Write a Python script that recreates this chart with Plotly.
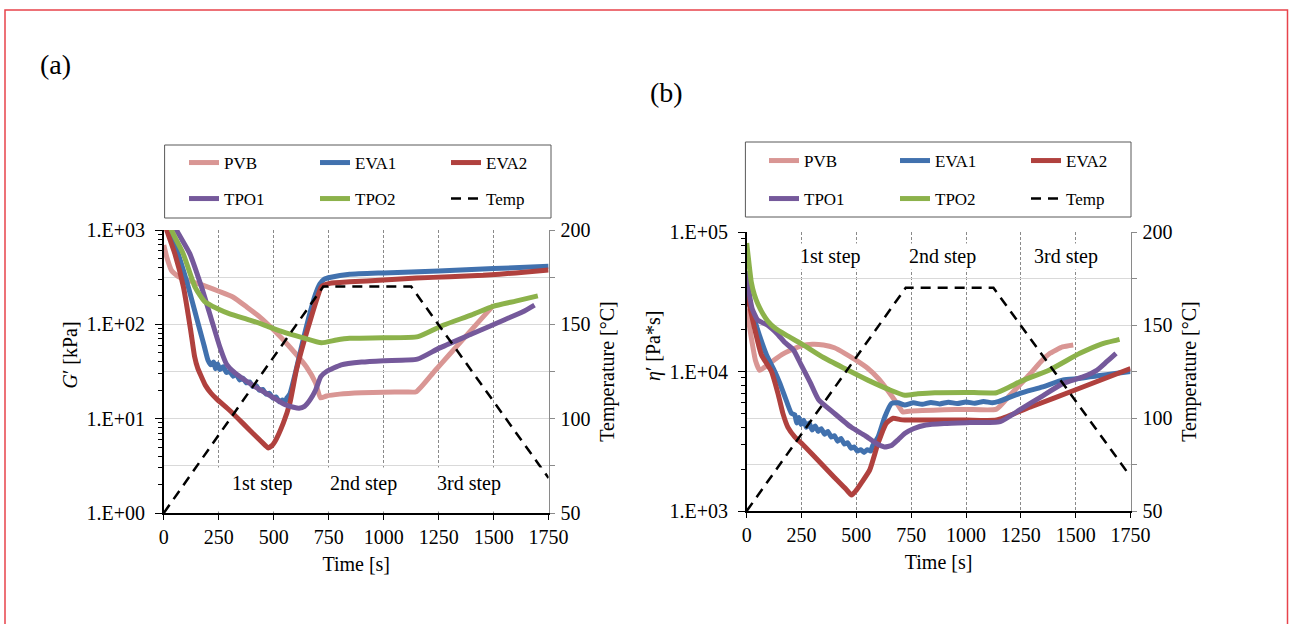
import plotly.graph_objects as go

# ---------------- data ----------------
series_names = ["PVB", "EVA1", "EVA2", "TPO1", "TPO2"]
series_colors = ["#D99694", "#4171AE", "#B0413E", "#75599B", "#8CB24B"]

x_ticks = [0, 250, 500, 750, 1000, 1250, 1500, 1750]
temp_ticks = [50, 75, 100, 125, 150, 175, 200]
temp_ticktext = ["50", "", "100", "", "150", "", "200"]
a_ticks = [1, 10, 100, 1000]
a_ticktext = ["1.E+00", "1.E+01", "1.E+02", "1.E+03"]
b_ticks = [1000, 10000, 100000]
b_ticktext = ["1.E+03", "1.E+04", "1.E+05"]
step_labels = ["1st step", "2nd step", "3rd step"]
a_step_t = [451, 906, 1388]
b_step_t = [380, 893, 1455]

# temperature program (both panels)
temp_t = [0, 725, 1125, 1750]
temp_T = [50, 170, 170, 68.5]

# ---- panel (a): G' [kPa] ----
a_pvb_t = [0, 15, 35, 70, 120, 171, 250, 314, 380, 436, 500, 573, 648, 690, 713, 740, 800, 900, 1000, 1100, 1148, 1232, 1300, 1400, 1500]
a_pvb_g = [692, 501, 372, 316, 288, 263, 224, 195, 151, 120, 87, 57.5, 35.5, 24.0, 16.6, 17.4, 18.2, 18.8, 19.1, 19.2, 19.3, 32.0, 48.2, 87.9, 160]

a_eva1_t = [0, 27, 65, 111, 140, 164, 185, 201, 215, 227, 235, 245, 255, 270, 285, 300, 315, 330, 345, 360, 375, 390, 405, 420, 435, 450, 465, 480, 495, 510, 525, 540, 550, 560, 573, 600, 630, 660, 690, 710, 730, 760, 845, 1000, 1250, 1500, 1750]
a_eva1_g = [1585, 1000, 562, 251, 141, 87.1, 57.5, 41.7, 37.2, 39.8, 33.9, 38.0, 33.1, 35.5, 30.9, 31.6, 28.2, 29.5, 25.7, 26.9, 24.0, 24.5, 21.9, 22.4, 20.0, 20.4, 18.2, 18.6, 16.6, 17.0, 15.1, 15.8, 14.8, 16.6, 18.2, 31.6, 63.1, 120, 209, 269, 302, 316, 339, 351, 367, 390, 412]

a_eva2_t = [0, 13, 50, 89, 122, 140, 155, 170, 190, 215, 240, 300, 360, 420, 460, 475, 490, 505, 543, 573, 603, 639, 667, 695, 717, 755, 845, 1000, 1149, 1300, 1452, 1600, 1750]
a_eva2_g = [1259, 1000, 562, 251, 87.1, 45.7, 33.9, 28.2, 22.4, 18.6, 16.2, 12.2, 8.91, 6.46, 5.25, 4.90, 5.13, 5.70, 8.91, 14.5, 32.8, 67.6, 112, 182, 251, 272, 282, 295, 309, 320, 331, 351, 377]

a_tpo1_t = [0, 58, 118, 171, 217, 255, 285, 321, 350, 400, 450, 500, 550, 590, 615, 640, 665, 690, 714, 740, 807, 900, 1000, 1153, 1250, 1400, 1550, 1633, 1686]
a_tpo1_g = [2239, 1000, 562, 251, 112, 57.5, 38.0, 30.9, 27.5, 22.9, 19.5, 16.6, 14.1, 13.2, 12.9, 13.5, 15.8, 20.0, 27.9, 31.6, 37.2, 39.8, 41.2, 42.7, 55.6, 78.9, 112, 136, 160]

a_tpo2_t = [0, 35, 88, 141, 164, 186, 240, 300, 391, 460, 542, 630, 717, 785, 845, 997, 1156, 1270, 1400, 1497, 1600, 1701]
a_tpo2_g = [1995, 1000, 562, 251, 204, 174, 148, 129, 111, 97.7, 83.2, 72.4, 63.8, 68.2, 71.1, 72.1, 74.1, 97.7, 126, 155, 176, 200]

# ---- panel (b): eta' [Pa*s] ----
b_pvb_t = [0, 20, 40, 59, 80, 113, 160, 204, 250, 300, 350, 400, 447, 500, 553, 600, 650, 690, 712, 740, 800, 900, 1000, 1139, 1200, 1246, 1291, 1340, 1383, 1440, 1489]
b_pvb_e = [28200, 17800, 12000, 10200, 10700, 11700, 13200, 14300, 15300, 15700, 15500, 14800, 13500, 12000, 10500, 8910, 7080, 5750, 5130, 5190, 5250, 5310, 5350, 5370, 6760, 8040, 9550, 11700, 13500, 15000, 15500]

b_eva1_t = [0, 30, 60, 90, 128, 150, 174, 204, 219, 228, 238, 248, 260, 272, 285, 298, 312, 326, 340, 355, 370, 385, 400, 415, 430, 445, 460, 475, 490, 505, 520, 535, 550, 565, 575, 599, 630, 660, 690, 721, 760, 800, 840, 880, 920, 960, 1000, 1040, 1080, 1120, 1150, 1246, 1350, 1443, 1515, 1600, 1680, 1750]
b_eva1_e = [35500, 25100, 17800, 13200, 10000, 8320, 6610, 5010, 4900, 4270, 4680, 4170, 4470, 3980, 4270, 3800, 4070, 3720, 3890, 3550, 3720, 3390, 3470, 3160, 3310, 3020, 3090, 2820, 2880, 2690, 2750, 2630, 2750, 2690, 2950, 3390, 4740, 5890, 5960, 5750, 5960, 5820, 6000, 5860, 6030, 5890, 6050, 5920, 6100, 5960, 6100, 6980, 7760, 8710, 8910, 9330, 9660, 10000]

b_eva2_t = [0, 30, 67, 113, 143, 165, 188, 220, 250, 300, 350, 400, 450, 478, 500, 523, 561, 599, 637, 668, 700, 721, 835, 1000, 1139, 1300, 1500, 1750]
b_eva2_e = [37200, 22400, 13200, 10000, 6920, 5010, 3980, 3390, 3060, 2540, 2100, 1740, 1450, 1300, 1410, 1590, 1970, 3060, 4270, 4620, 4520, 4490, 4490, 4490, 4490, 5610, 7400, 10500]

b_tpo1_t = [0, 10, 25, 50, 97, 140, 173, 213, 250, 290, 327, 400, 477, 540, 590, 628, 660, 690, 722, 760, 817, 900, 1000, 1156, 1250, 1350, 1443, 1530, 1596, 1640, 1684]
b_tpo1_e = [52500, 38000, 28200, 23400, 21400, 18600, 16200, 14300, 11000, 8320, 6310, 5010, 3980, 3470, 3060, 2880, 2950, 3240, 3610, 3890, 4140, 4240, 4300, 4370, 5370, 6700, 8220, 9120, 10200, 11700, 13500]

b_tpo2_t = [0, 10, 21, 35, 52, 75, 97, 130, 180, 250, 350, 447, 550, 650, 721, 780, 858, 1000, 1139, 1200, 1246, 1383, 1519, 1620, 1687, 1700]
b_tpo2_e = [83200, 60300, 43700, 35500, 30200, 25700, 22900, 20400, 18200, 15800, 12600, 10500, 8710, 7410, 6760, 6920, 7050, 7080, 7050, 7760, 8450, 10300, 13500, 15800, 16800, 17000]

# ---------------- layout helpers (pixel positions) ----------------
W, H = 1290, 624
FONT = "Liberation Serif"


def px(x):
    return x / W


def py(y):
    return 1 - y / H


A_X = [px(163.8), px(548.6)]
A_Y = [py(513), py(230)]
B_X = [px(746.7), px(1130.5)]
B_Y = [py(511), py(232)]

fig = go.Figure()

a_sets = [(a_pvb_t, a_pvb_g), (a_eva1_t, a_eva1_g), (a_eva2_t, a_eva2_g), (a_tpo1_t, a_tpo1_g), (a_tpo2_t, a_tpo2_g)]
b_sets = [(b_pvb_t, b_pvb_e), (b_eva1_t, b_eva1_e), (b_eva2_t, b_eva2_e), (b_tpo1_t, b_tpo1_e), (b_tpo2_t, b_tpo2_e)]

for i, (name, col, (tx, ty)) in enumerate(zip(series_names, series_colors, a_sets)):
    fig.add_trace(go.Scatter(x=tx, y=ty, name=name, mode="lines",
                             line=dict(color=col, width=5, shape="spline", smoothing=0.5),
                             xaxis="x", yaxis="y",
                             legend="legend" if i < 3 else "legend2"))
fig.add_trace(go.Scatter(x=temp_t, y=temp_T, name="Temp", mode="lines",
                         line=dict(color="black", width=2.5, dash="10px,7px"),
                         xaxis="x", yaxis="y2", legend="legend2"))

for i, (name, col, (tx, ty)) in enumerate(zip(series_names, series_colors, b_sets)):
    fig.add_trace(go.Scatter(x=tx, y=ty, name=name, mode="lines",
                             line=dict(color=col, width=5, shape="spline", smoothing=0.5),
                             xaxis="x2", yaxis="y3",
                             legend="legend3" if i < 3 else "legend4"))
fig.add_trace(go.Scatter(x=temp_t, y=temp_T, name="Temp", mode="lines",
                         line=dict(color="black", width=2.5, dash="10px,7px"),
                         xaxis="x2", yaxis="y4", legend="legend4"))

tickfont = dict(family=FONT, size=20, color="black")
titlefont = dict(family=FONT, size=20, color="black")

xcommon = dict(range=[0, 1750], tickmode="array", tickvals=x_ticks,
               showgrid=True, gridcolor="#8a8a8a", griddash="3px,2px", gridwidth=1,
               showline=True, linecolor="black", linewidth=1.5,
               ticks="outside", ticklen=5, tickcolor="black", tickwidth=1,
               tickfont=tickfont, zeroline=False, fixedrange=True,
               title=dict(text="Time [s]", font=titlefont, standoff=10))

tempcommon = dict(range=[50, 200], tickmode="array", tickvals=temp_ticks, ticktext=temp_ticktext,
                  side="right", showgrid=True, gridcolor="#d9d9d9", gridwidth=1,
                  showline=True, linecolor="#8a8a8a", linewidth=1,
                  ticks="outside", ticklen=5, tickcolor="#8a8a8a", ticklabelstandoff=2,
                  tickfont=tickfont, zeroline=False,
                  title=dict(text="Temperature [°C]", font=titlefont, standoff=10))

logcommon = dict(type="log", tickmode="array",
                 showgrid=True, gridcolor="#8a8a8a", griddash="3px,2px", gridwidth=1,
                 showline=True, linecolor="black", linewidth=1.5,
                 ticks="outside", ticklen=7, tickcolor="black", ticklabelstandoff=6,
                 tickfont=tickfont, zeroline=False)

a_minor = [v * m for v in [1, 10, 100] for m in range(2, 10)]
b_minor = [v * m for v in [1000, 10000] for m in range(2, 10)]

fig.update_layout(
    width=W, height=H,
    margin=dict(l=0, r=0, t=0, b=0, autoexpand=False),
    paper_bgcolor="white", plot_bgcolor="white",
    font=dict(family=FONT, color="black"),
    xaxis=dict(domain=A_X, anchor="y", **xcommon),
    yaxis=dict(domain=A_Y, anchor="x", range=[0, 3], tickvals=a_ticks, ticktext=a_ticktext,
               minor=dict(tickmode="array", tickvals=a_minor, ticks="outside", ticklen=4,
                          tickcolor="black", showgrid=False), **logcommon),
    yaxis2=dict(overlaying="y", anchor="x", **tempcommon),
    xaxis2=dict(domain=B_X, anchor="y3", **xcommon),
    yaxis3=dict(domain=B_Y, anchor="x2", range=[3, 5], tickvals=b_ticks, ticktext=b_ticktext,
                minor=dict(tickmode="array", tickvals=b_minor, ticks="outside", ticklen=4,
                           tickcolor="black", showgrid=False), **logcommon),
    yaxis4=dict(overlaying="y3", anchor="x2", **tempcommon),
)

legcommon = dict(orientation="h", entrywidth=86, entrywidthmode="pixels", itemwidth=30,
                 bgcolor="rgba(0,0,0,0)", borderwidth=0, xanchor="left", yanchor="middle",
                 font=dict(family=FONT, size=17, color="black"), itemclick=False,
                 itemdoubleclick=False)
fig.update_layout(
    legend=dict(x=px(184), y=py(163), **legcommon),
    legend2=dict(x=px(184), y=py(199), **legcommon),
    legend3=dict(x=px(764), y=py(161), **legcommon),
    legend4=dict(x=px(764), y=py(199), **legcommon),
)

shapes = [
    # red frame
    dict(type="rect", xref="paper", yref="paper", x0=px(5), x1=px(1287.5), y0=-0.05, y1=py(10),
         line=dict(color="#E8434B", width=1.5), fillcolor="rgba(0,0,0,0)", layer="above"),
    # legend boxes
    dict(type="rect", xref="paper", yref="paper", x0=px(164.6), x1=px(551), y0=py(218), y1=py(145),
         line=dict(color="#595959", width=1), fillcolor="rgba(0,0,0,0)", layer="above"),
    dict(type="rect", xref="paper", yref="paper", x0=px(745.4), x1=px(1131), y0=py(217), y1=py(142),
         line=dict(color="#595959", width=1), fillcolor="rgba(0,0,0,0)", layer="above"),
    # white label box in panel (a) (region holds no data curves)
    dict(type="rect", xref="x", yref="paper", x0=175, x1=1720, y0=py(511.5), y1=py(467.5),
         line=dict(width=0), fillcolor="white", layer="above"),
]
fig.update_layout(shapes=shapes)

ann = [
    dict(text="(a)", x=px(55), y=py(65), xref="paper", yref="paper", showarrow=False,
         xanchor="center", yanchor="middle", font=dict(family=FONT, size=28, color="black")),
    dict(text="(b)", x=px(666), y=py(92), xref="paper", yref="paper", showarrow=False,
         xanchor="center", yanchor="middle", font=dict(family=FONT, size=28, color="black")),
    dict(text="<i>G</i>′ [kPa]", x=px(69.5), y=py(355), xref="paper", yref="paper",
         xanchor="center", yanchor="middle", showarrow=False, textangle=-90, font=titlefont),
    dict(text="<i>η</i>′ [Pa*s]", x=px(653), y=py(346), xref="paper", yref="paper",
         xanchor="center", yanchor="middle", showarrow=False, textangle=-90, font=titlefont),
]
for lab, t in zip(step_labels, a_step_t):
    ann.append(dict(text=lab, x=t, y=65.9, xref="x", yref="y2", showarrow=False,
                    font=dict(family=FONT, size=20, color="black")))
for lab, t in zip(step_labels, b_step_t):
    ann.append(dict(text=lab, x=t, y=186.7, xref="x2", yref="y4", showarrow=False,
                    bgcolor="white", font=dict(family=FONT, size=20, color="black")))
fig.update_layout(annotations=ann)

fig.write_html("out.html", config={"displayModeBar": False},
               post_script="document.body.style.margin='0';")
